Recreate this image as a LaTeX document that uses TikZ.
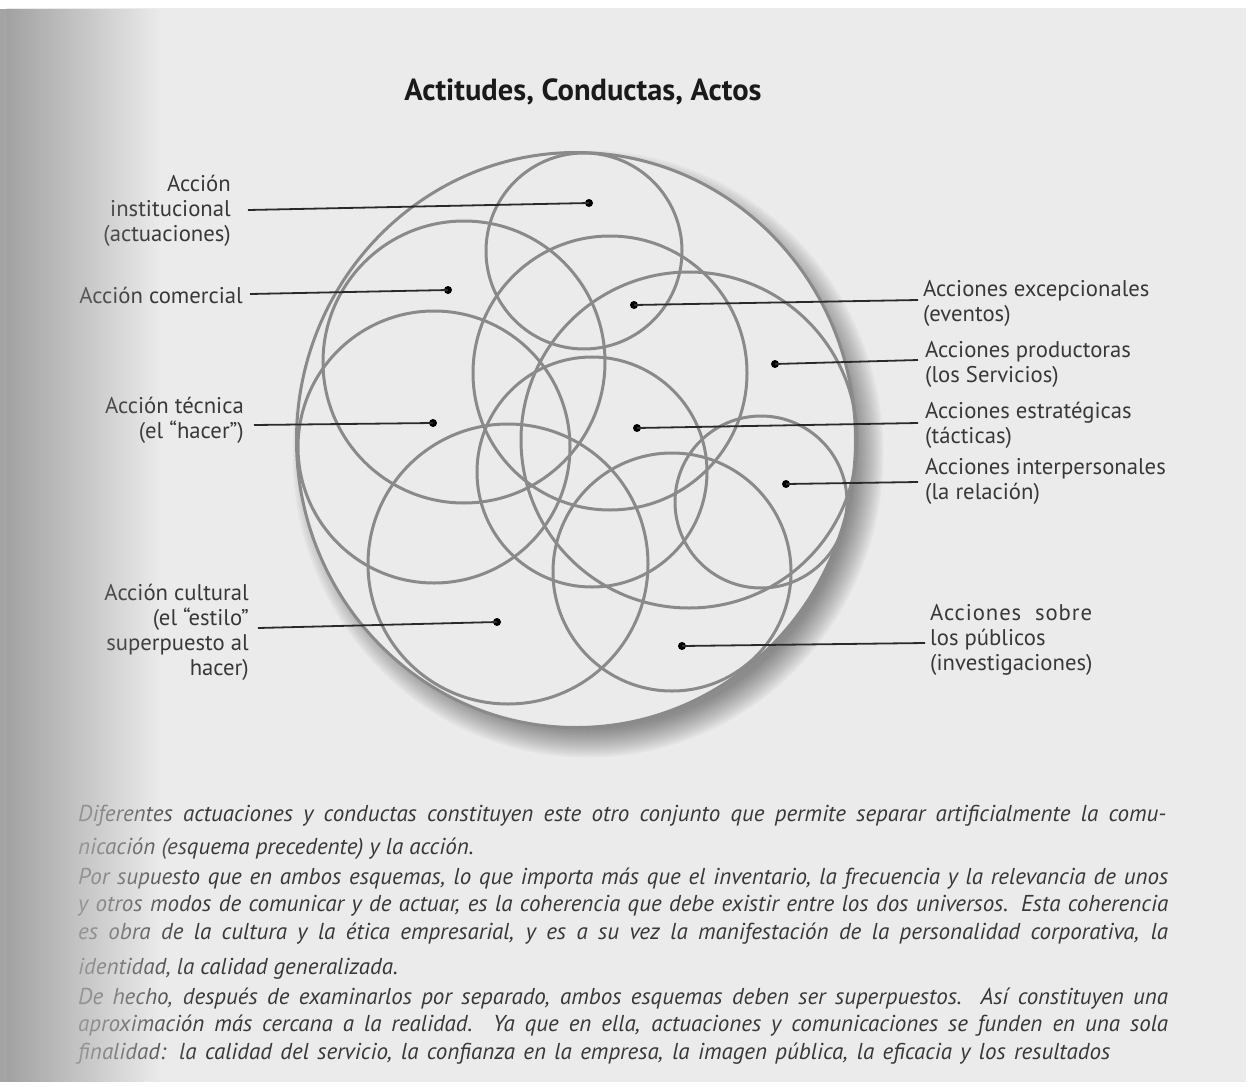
\documentclass[tikz,border=0pt]{standalone}
\usepackage{fontspec}
\setmainfont{PT Sans}
\usetikzlibrary{calc,fadings}
\definecolor{pagec}{HTML}{EBEBEB}
\definecolor{ringc}{HTML}{8A8A8A}
\definecolor{leadc}{HTML}{2A2A2A}
\definecolor{inkc}{HTML}{383838}
\definecolor{titlec}{HTML}{1A1A1A}
\newcommand{\jl}[2]{\hbox to #1pt{\spaceskip=0.25em plus 1em minus 0.15em\relax #2}}
\begin{document}
\begin{tikzpicture}[x=1pt,y=-1pt,
  ring/.style={draw=ringc, line width=3pt},
  leadline/.style={draw=leadc, line width=1.8pt},
  dotmark/.style={circle, fill=black, inner sep=0pt, minimum size=8pt},
  lbl/.style={inner sep=0pt, text=inkc, font=\fontsize{22.7}{25}\selectfont},
  para/.style={inner sep=0pt, text=inkc, anchor=west, font=\fontsize{23}{27}\selectfont\itshape}]
\useasboundingbox (0,0) rectangle (1251,1087);
\fill[white] (0,0) rectangle (1251,1087);
\fill[pagec] (6,8) rectangle (1246,1082);

% title
\node[inner sep=0pt, text=titlec, font=\fontsize{30.5}{34}\selectfont\bfseries] (title) at (583,92) {Actitudes, Conductas, Actos};

% shadow of the outer circle
\coordinate (O) at (576,440);
\foreach \i in {0,...,14}
  \fill[black, opacity=0.03] ($(O)+(12,14)$) ellipse [x radius={295.5pt-2pt*\i}, y radius={303.5pt-2pt*\i}];
\filldraw[fill=pagec, draw=ringc, line width=3pt] (O) ellipse [x radius=279.5pt, y radius=287.5pt];

% inner circles
\draw[ring] (584,251) circle[radius=98pt];
\draw[ring] (464,362) circle[radius=141pt];
\draw[ring] (434,447) circle[radius=136pt];
\draw[ring] (508,564) circle[radius=140pt];
\draw[ring] (610,373) circle[radius=137pt];
\draw[ring] (689,440) circle[radius=168pt];
\draw[ring] (592,472) circle[radius=115pt];
\draw[ring] (761,502) circle[radius=86pt];
\draw[ring] (672,572) circle[radius=119pt];

% dots
\node[dotmark] (d1) at (589,203) {};
\node[dotmark] (d2) at (448,290) {};
\node[dotmark] (d3) at (433,423) {};
\node[dotmark] (d4) at (497,622) {};
\node[dotmark] (d5) at (634,305) {};
\node[dotmark] (d6) at (775,364) {};
\node[dotmark] (d7) at (637,428) {};
\node[dotmark] (d8) at (786,484) {};
\node[dotmark] (d9) at (682,646) {};

% left labels
\node[lbl, anchor=east, align=right] (l1) at (231,211) {Acción\\institucional\\(actuaciones)};
\node[lbl, anchor=east, align=right] (l2) at (243,295) {Acción comercial};
\node[lbl, anchor=east, align=right] (l3) at (244,420) {Acción técnica\\(el “hacer”)};
\node[lbl, anchor=east, align=right] (l4) at (249,632) {Acción cultural\\(el “estilo”\\superpuesto al\\hacer)};

% right labels
\node[lbl, anchor=west, align=left] (r1) at (923,303) {Acciones excepcionales\\(eventos)};
\node[lbl, anchor=west, align=left] (r2) at (925,364) {Acciones productoras\\(los Servicios)};
\node[lbl, anchor=west, align=left] (r3) at (925,425) {Acciones estratégicas\\(tácticas)};
\node[lbl, anchor=west, align=left] (r4) at (925,481) {Acciones interpersonales\\(la relación)};
\node[lbl, anchor=west, align=left] (r5) at (930,640) {{\addfontfeatures{LetterSpace=4}Acciones\ \ sobre}\\los públicos\\(investigaciones)};

% leader line ends
\coordinate (s1) at (248,210);
\coordinate (s2) at (250,294);
\coordinate (s3) at (254,425);
\coordinate (s4) at (258,628);
\coordinate (e1) at (918,300);
\coordinate (e2) at (918,360);
\coordinate (e3) at (918,423);
\coordinate (e4) at (918,482);
\coordinate (e5) at (925,643);

\draw[leadline] (s1) -- (d1.center);
\draw[leadline] (s2) -- (d2.center);
\draw[leadline] (s3) -- (d3.center);
\draw[leadline] (s4) -- (d4.center);
\draw[leadline] (d5.center) -- (e1);
\draw[leadline] (d6.center) -- (e2);
\draw[leadline] (d7.center) -- (e3);
\draw[leadline] (d8.center) -- (e4);
\draw[leadline] (d9.center) -- (e5);

% paragraph text
\node[para] (p1) at (78,816) {\jl{1088}{Diferentes actuaciones y conductas constituyen este otro conjunto que permite separar artificialmente la comu-}};
\node[para] (p2) at (78,849) {nicación (esquema precedente) y la acción.};
\node[para] (p3) at (78,879) {\jl{1090}{Por supuesto que en ambos esquemas, lo que importa más que el inventario, la frecuencia y la relevancia de unos}};
\node[para] (p4) at (78,906) {\jl{1090}{y otros modos de comunicar y de actuar, es la coherencia que debe existir entre los dos universos. Esta coherencia}};
\node[para] (p5) at (78,934) {\jl{1090}{es obra de la cultura y la ética empresarial, y es a su vez la manifestación de la personalidad corporativa, la}};
\node[para] (p6) at (78,969) {identidad, la calidad generalizada.};
\node[para] (p7) at (78,999) {\jl{1090}{De hecho, después de examinarlos por separado, ambos esquemas deben ser superpuestos. Así constituyen una}};
\node[para] (p8) at (78,1026) {\jl{1090}{aproximación más cercana a la realidad. Ya que en ella, actuaciones y comunicaciones se funden en una sola}};
\node[para] (p9) at (78,1054) {\jl{1032}{finalidad: la calidad del servicio, la confianza en la empresa, la imagen pública, la eficacia y los resultados}};

% scan effects at the left edge
\fill[pagec, opacity=0.75, path fading=east] (40,790) rectangle (200,1082);
\fill[black!45, path fading=east] (-40,8) rectangle (160,1082);
\end{tikzpicture}
\end{document}
